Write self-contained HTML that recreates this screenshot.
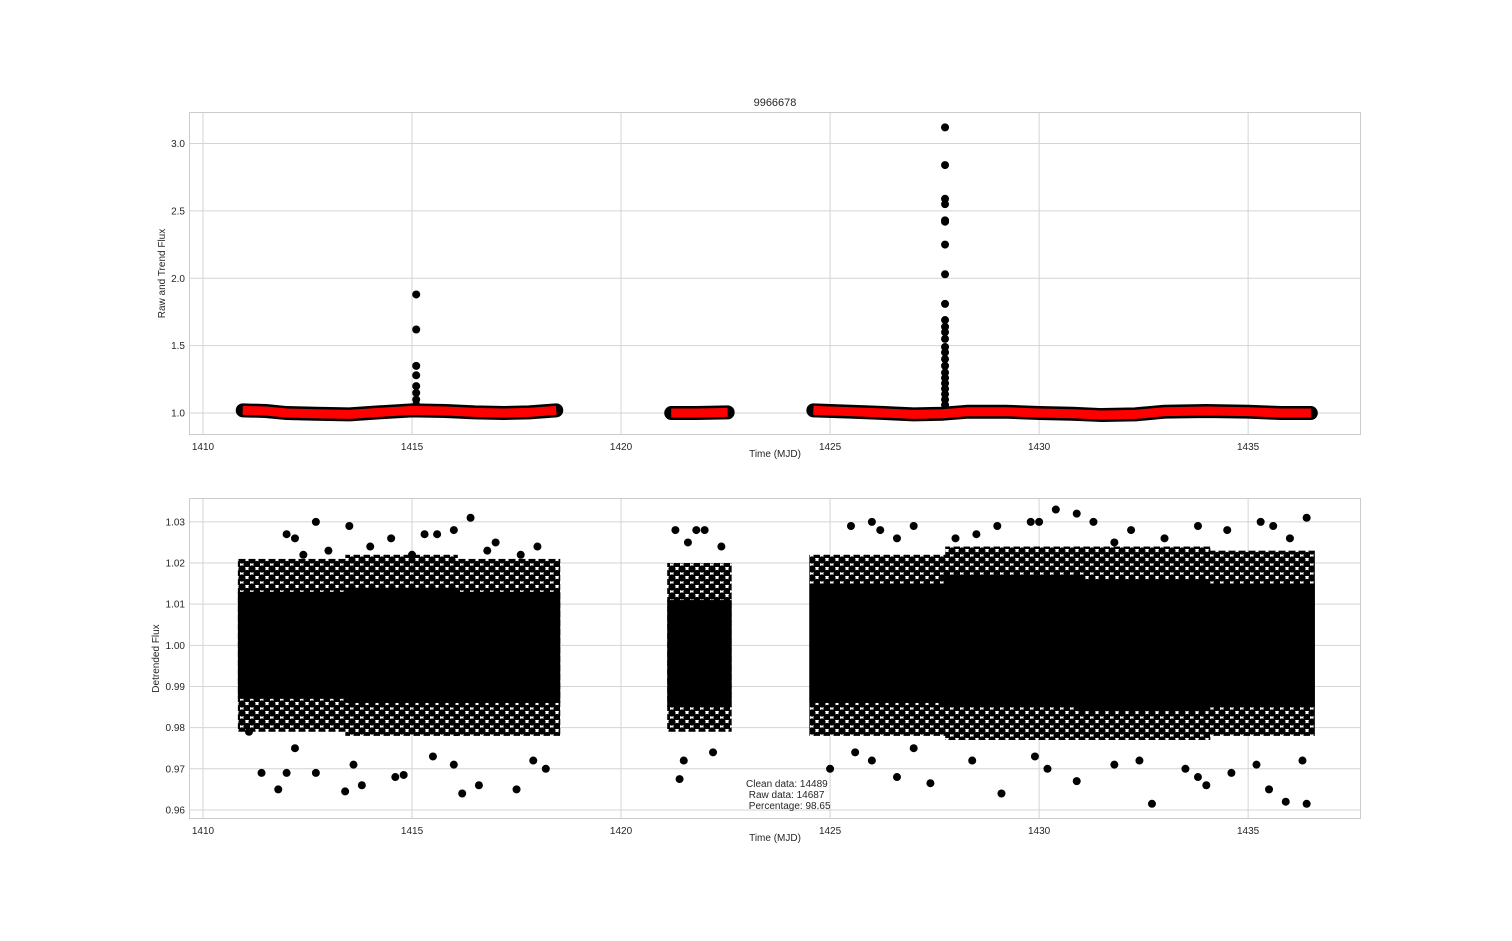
<!DOCTYPE html>
<html><head><meta charset="utf-8"><style>
html,body{margin:0;padding:0;background:#fff}
svg text{font-family:"Liberation Sans","DejaVu Sans",sans-serif;fill:#262626}
</style></head><body>
<svg id="fig" width="1512" height="936" xmlns="http://www.w3.org/2000/svg">
<defs>
<pattern id="dots" width="10" height="9" patternUnits="userSpaceOnUse">
<circle cx="2" cy="2" r="3.6" fill="#000"/><circle cx="7" cy="6.5" r="3.6" fill="#000"/><circle cx="12" cy="2" r="3.6" fill="#000"/><circle cx="2" cy="11" r="3.6" fill="#000"/><circle cx="12" cy="11" r="3.6" fill="#000"/>
</pattern>
</defs>
</svg>
<script>
// ---- data ----
const xTicks=[1410,1415,1420,1425,1430,1435];
const topYTicks=[1.0,1.5,2.0,2.5,3.0];
const botYTicks=[0.96,0.97,0.98,0.99,1.00,1.01,1.02,1.03];
const trendSeg1T=[1410.95,1411.5,1412.0,1412.7,1413.5,1414.2,1415.0,1415.8,1416.5,1417.2,1417.8,1418.45];
const trendSeg1V=[1.02,1.015,1.0,0.995,0.99,1.005,1.02,1.015,1.005,1.0,1.005,1.02];
const trendSeg2T=[1421.2,1421.8,1422.55];
const trendSeg2V=[1.0,1.0,1.005];
const trendSeg3T=[1424.6,1425.5,1426.3,1427.0,1427.7,1428.3,1429.2,1430.0,1430.8,1431.5,1432.3,1433.0,1434.0,1435.0,1435.8,1436.5];
const trendSeg3V=[1.02,1.01,1.0,0.99,0.995,1.01,1.01,1.0,0.995,0.985,0.99,1.01,1.015,1.01,1.0,1.0];
const flareT=[1415.1,1415.1,1415.1,1415.1,1415.1,1415.1,1415.1,1415.1,
 1427.75,1427.75,1427.75,1427.75,1427.75,1427.75,1427.75,1427.75,1427.75,1427.75,1427.75,1427.75,1427.75,1427.75,1427.75,1427.75,1427.75,1427.75,1427.75,1427.75,1427.75,1427.75,1427.75,1427.75];
const flareV=[1.88,1.62,1.35,1.28,1.20,1.15,1.10,1.06,
 3.12,2.84,2.59,2.55,2.43,2.42,2.25,2.03,1.81,1.69,1.64,1.60,1.55,1.49,1.45,1.40,1.35,1.30,1.26,1.22,1.18,1.14,1.10,1.06];
const binStart=[1410.93,1413.5,1416.0,1421.2,1424.6,1427.85,1431.0,1434.0];
const binEnd  =[1413.5,1416.0,1418.45,1422.55,1427.7,1431.0,1434.0,1436.5];
const coreLo  =[0.987,0.986,0.986,0.985,0.986,0.985,0.984,0.985];
const coreHi  =[1.013,1.014,1.013,1.011,1.015,1.017,1.016,1.015];
const outLo   =[0.979,0.978,0.978,0.979,0.978,0.977,0.977,0.978];
const outHi   =[1.021,1.022,1.021,1.020,1.022,1.024,1.024,1.023];
const outT=[1412.0,1412.2,1412.7,1413.5,1414.5,1415.3,1415.6,1416.0,1416.4,1417.0,1418.0,1412.4,1413.0,1414.0,1415.0,1416.8,1417.6,1421.3,1421.8,1422.0,1422.4,1421.6,1425.5,1426.0,1426.2,1427.0,1426.6,1428.0,1428.5,1429.0,1429.8,1430.0,1430.4,1430.9,1431.3,1432.2,1433.8,1434.5,1435.3,1435.6,1436.4,1433.0,1431.8,1436.0,
 1411.1,1411.4,1411.8,1412.0,1412.7,1413.4,1413.8,1414.6,1414.8,1416.2,1416.6,1417.5,1416.0,1413.6,1415.5,1417.9,1418.2,1412.2,1421.4,1421.5,1422.2,1425.0,1426.6,1427.4,1428.4,1429.1,1430.2,1430.9,1431.8,1432.4,1432.7,1433.5,1433.8,1434.0,1434.6,1435.2,1435.5,1435.9,1436.3,1436.4,1429.9,1427.0,1425.6,1426.0];
const outV=[1.027,1.026,1.030,1.029,1.026,1.027,1.027,1.028,1.031,1.025,1.024,1.022,1.023,1.024,1.022,1.023,1.022,1.028,1.028,1.028,1.024,1.025,1.029,1.030,1.028,1.029,1.026,1.026,1.027,1.029,1.030,1.030,1.033,1.032,1.030,1.028,1.029,1.028,1.030,1.029,1.031,1.026,1.025,1.026,
 0.979,0.969,0.965,0.969,0.969,0.9645,0.966,0.968,0.9685,0.964,0.966,0.965,0.971,0.971,0.973,0.972,0.970,0.975,0.9675,0.972,0.974,0.970,0.968,0.9665,0.972,0.964,0.970,0.967,0.971,0.972,0.9615,0.970,0.968,0.966,0.969,0.971,0.965,0.962,0.972,0.9615,0.973,0.975,0.974,0.972];

// ---- drawing ----
const svg=document.getElementById('fig');
const NS='http://www.w3.org/2000/svg';
function mk(tag,attrs,parent){const e=document.createElementNS(NS,tag);for(const k in attrs)e.setAttribute(k,attrs[k]);(parent||svg).appendChild(e);return e;}
const L=189,R=1361,X0=1409.665,X1=1437.70;
const xs=t=>L+(t-X0)/(X1-X0)*(R-L);
function panel(top,bot,y0,y1,yTicks,fmt,ylabel,name){
  const ys=v=>bot-(v-y0)/(y1-y0)*(bot-top);
  const g=mk('g',{});
  
  
  mk('rect',{x:L,y:top,width:R-L,height:bot-top,fill:'#fff'},g);
  xTicks.forEach(t=>{const x=xs(t);mk('line',{x1:x,x2:x,y1:top,y2:bot,stroke:'#d4d4d4','stroke-width':1},g);
    const tx=mk('text',{x:x,y:bot+15,'font-size':10,'text-anchor':'middle'},g);tx.textContent=t;
    });
  yTicks.forEach(v=>{const y=ys(v);mk('line',{x1:L,x2:R,y1:y,y2:y,stroke:'#d4d4d4','stroke-width':1},g);
    const tx=mk('text',{x:L-4,y:y+3.5,'font-size':10,'text-anchor':'end'},g);tx.textContent=fmt(v);
    });
  mk('rect',{x:L+.5,y:top+.5,width:R-L-1,height:bot-top-1,fill:'none',stroke:'#ccc'},g);
  const xl=mk('text',{x:(L+R)/2,y:bot+22,'font-size':10,'text-anchor':'middle'},g);xl.textContent='Time (MJD)';
  
  const yl=mk('text',{x:0,y:0,'font-size':10,'text-anchor':'middle',transform:`translate(${name==='top-panel'?165:159},${(top+bot)/2}) rotate(-90)`},g);yl.textContent=ylabel;
  
  return {g,ys};
}
const tp=panel(112,435,0.837,3.234,topYTicks,v=>v.toFixed(1),'Raw and Trend Flux','top-panel');
const bp=panel(498,819,0.9578,1.0358,botYTicks,v=>v.toFixed(2),'Detrended Flux','bottom-panel');

const title=mk('text',{x:775,y:106,'font-size':11,'text-anchor':'middle'});title.textContent='9966678';


const segs=[[trendSeg1T,trendSeg1V],[trendSeg2T,trendSeg2V],[trendSeg3T,trendSeg3V]];
segs.forEach(([T,V])=>{
  const pts=T.map((t,j)=>xs(t)+','+tp.ys(V[j])).join(' ');
  const band=mk('polyline',{points:pts,fill:'none',stroke:'#000','stroke-width':14,'stroke-linecap':'round','stroke-linejoin':'round'},tp.g);
  
});
flareT.forEach((t,i)=>{const c=mk('circle',{cx:xs(t),cy:tp.ys(flareV[i]),r:4,fill:'#000'},tp.g);
  });
segs.forEach(([T,V])=>{
  const pts=T.map((t,j)=>xs(t)+','+tp.ys(V[j])).join(' ');
  const tr=mk('polyline',{points:pts,fill:'none',stroke:'#f00','stroke-width':9,'stroke-linejoin':'round'},tp.g);
  
});

binStart.forEach((s,i)=>{
  const x=xs(s)-4,w=xs(binEnd[i])-xs(s)+8;
  const o=mk('rect',{x:x,y:bp.ys(outHi[i]),width:w,height:bp.ys(outLo[i])-bp.ys(outHi[i]),fill:'url(#dots)'},bp.g);
  
  const c=mk('rect',{x:x,y:bp.ys(coreHi[i]),width:w,height:bp.ys(coreLo[i])-bp.ys(coreHi[i]),fill:'#000'},bp.g);
  
});
outT.forEach((t,i)=>{const c=mk('circle',{cx:xs(t),cy:bp.ys(outV[i]),r:4,fill:'#000'},bp.g);
  });

const info=['Clean data: 14489',' Raw data: 14687',' Percentage: 98.65'];
info.forEach((s,i)=>{const t=mk('text',{x:746,y:787+i*11,'font-size':10});t.textContent=s.replace(/^ /,'\u00a0');
  });
</script>
</body></html>
